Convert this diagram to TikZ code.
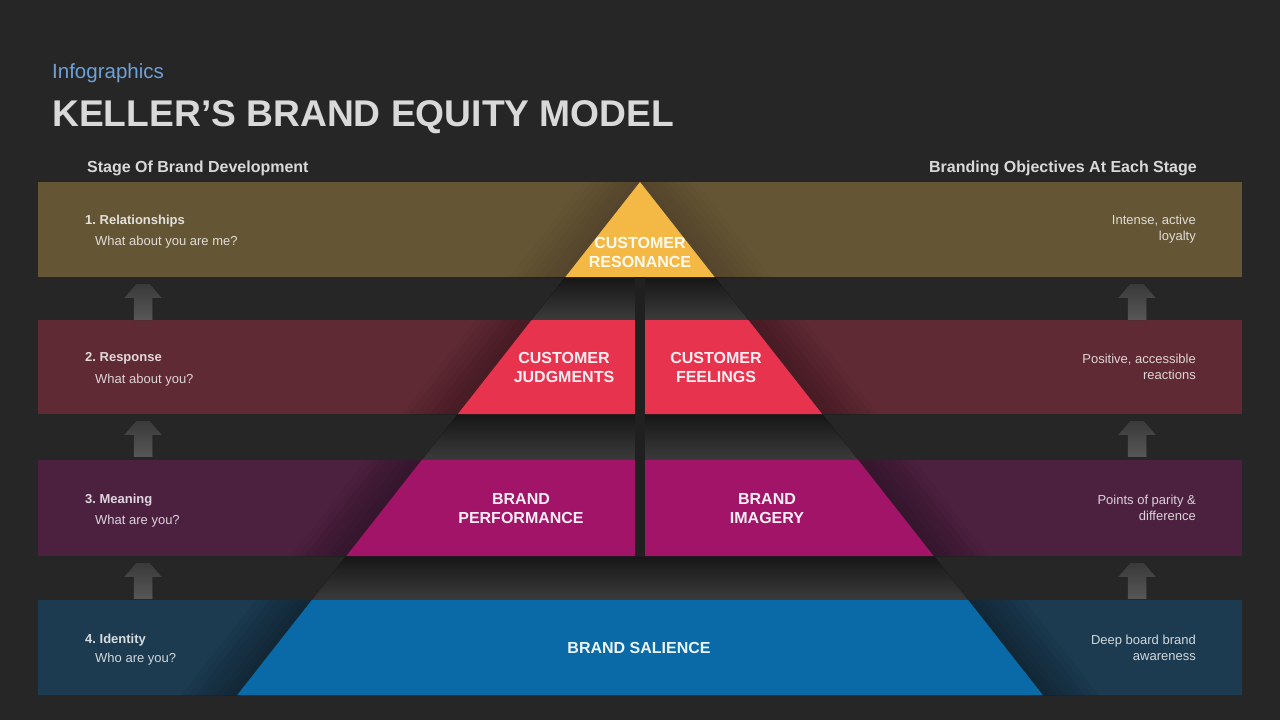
\documentclass[tikz,border=0pt]{standalone}
\usepackage{fontspec}
\setmainfont{Liberation Sans}
\frenchspacing
\definecolor{bg}{HTML}{262626}
\definecolor{bandA}{HTML}{645535}
\definecolor{bandB}{HTML}{5F2A34}
\definecolor{bandC}{HTML}{4C2140}
\definecolor{bandD}{HTML}{1C3B50}
\definecolor{pyA}{HTML}{F3B944}
\definecolor{pyB}{HTML}{E8334E}
\definecolor{pyC}{HTML}{A11467}
\definecolor{pyD}{HTML}{0A6AA8}
\definecolor{titlec}{HTML}{D9D9D9}
\definecolor{infoc}{HTML}{6FA0D6}
\definecolor{gapdark}{HTML}{161616}
\definecolor{gaplight}{HTML}{3B3B3B}
\definecolor{arrowlo}{HTML}{575757}
\definecolor{arrowhi}{HTML}{3A3A3A}
\newcommand\bandshadow[7]{% y0 y1 xl0 xl1 xr0 xr1 opacity
  \foreach \d in {7,14,...,56}{%
    \fill[black,opacity=#7] (#3-\d,#1) -- (#3,#1) -- (#4,#2) -- (#4-\d,#2) -- cycle;
    \fill[black,opacity=#7] (#5+\d,#1) -- (#5,#1) -- (#6,#2) -- (#6+\d,#2) -- cycle;
  }}
\newcommand\uparrowshape[2]{% center x, gap top y
  \fill[bottom color=arrowlo, top color=arrowhi]
    (#1-9.5,#2+43) -- (#1-9.5,#2+21) -- (#1-19,#2+21) -- (#1-7,#2+7)
    -- (#1+7,#2+7) -- (#1+19,#2+21) -- (#1+9.5,#2+21) -- (#1+9.5,#2+43) -- cycle;}
\tikzset{
  ptext/.style={font=\bfseries\fontsize{16}{19}\selectfont, text=white, text opacity=0.93, align=center, inner sep=0},
  lhead/.style={font=\bfseries\fontsize{13}{15}\selectfont, text=white, text opacity=0.82, anchor=base west, inner sep=0},
  lsub/.style={font=\fontsize{13}{15}\selectfont, text=white, text opacity=0.8, anchor=base west, inner sep=0},
  rtext/.style={font=\fontsize{13}{16}\selectfont, text=white, text opacity=0.8, align=right, anchor=east, inner sep=0},
  colhead/.style={font=\bfseries\fontsize{16}{19}\selectfont, text=titlec, inner sep=0},
}
\begin{document}
\begin{tikzpicture}[x=1pt,y=-1pt]
\useasboundingbox (0,0) rectangle (1280,720);
\fill[bg] (0,0) rectangle (1280,720);
% titles
\node[font=\fontsize{20.5}{24}\selectfont, text=infoc, anchor=base west, inner sep=0] (info) at (52,78) {Infographics};
\node[font=\bfseries\fontsize{37.2}{44}\selectfont, text=titlec, anchor=base west, inner sep=0] (title) at (52,126) {KELLER’S BRAND EQUITY MODEL};
\node[colhead, anchor=base west] (lefthead) at (87,172) {Stage Of Brand Development};
\node[colhead, anchor=base east] (righthead) at (1197,172) {Branding Objectives At Each Stage};
% bands
\fill[bandA] (38,182) rectangle (1242,277);
\fill[bandB] (38,320) rectangle (1242,414);
\fill[bandC] (38,460) rectangle (1242,556);
\fill[bandD] (38,600) rectangle (1242,695);
% shadows beside the pyramid
\bandshadow{182}{277}{640}{565.4}{640}{714.6}{0.02}
\bandshadow{320}{414}{531.7}{457.9}{748.3}{822.1}{0.032}
\bandshadow{460}{556}{421.8}{346.4}{858.2}{933.6}{0.035}
\bandshadow{600}{695}{311.9}{237.3}{968.1}{1042.7}{0.04}
% grey gap pieces
\fill[top color=gapdark, bottom color=gaplight] (565.4,277) -- (714.6,277) -- (748.3,320) -- (531.7,320) -- cycle;
\fill[top color=gapdark, bottom color=gaplight] (457.9,414) -- (822.1,414) -- (858.2,460) -- (421.8,460) -- cycle;
\fill[top color=gapdark, bottom color=gaplight] (346.4,556) -- (933.6,556) -- (968.1,600) -- (311.9,600) -- cycle;
% pyramid levels
\fill[pyA] (640,182) -- (714.6,277) -- (565.4,277) -- cycle;
\fill[pyB] (531.7,320) -- (748.3,320) -- (822.1,414) -- (457.9,414) -- cycle;
\fill[pyC] (421.8,460) -- (858.2,460) -- (933.6,556) -- (346.4,556) -- cycle;
\fill[pyD] (311.9,600) -- (968.1,600) -- (1042.7,695) -- (237.3,695) -- cycle;
% central split
\fill[bg!85!black] (635,277) rectangle (645,556);
% arrows
\uparrowshape{143}{277}
\uparrowshape{143}{414}
\uparrowshape{143}{556}
\uparrowshape{1137}{277}
\uparrowshape{1137}{414}
\uparrowshape{1137}{556}
% pyramid labels
\node[ptext] (resonance) at (640,252) {CUSTOMER\\RESONANCE};
\node[ptext] (judgments) at (564,367.5) {CUSTOMER\\JUDGMENTS};
\node[ptext] (feelings) at (716,367.5) {CUSTOMER\\FEELINGS};
\node[ptext] (performance) at (521,508.5) {BRAND\\PERFORMANCE};
\node[ptext] (imagery) at (767,508.5) {BRAND\\IMAGERY};
\node[ptext] (salience) at (639,648) {BRAND SALIENCE};
% left labels
\node[lhead] (s1) at (85,224) {1. Relationships};
\node[lsub] (q1) at (95,245) {What about you are me?};
\node[lhead] (s2) at (85,361) {2. Response};
\node[lsub] (q2) at (95,383) {What about you?};
\node[lhead] (s3) at (85,503) {3. Meaning};
\node[lsub] (q3) at (95,524) {What are you?};
\node[lhead] (s4) at (85,643) {4. Identity};
\node[lsub] (q4) at (95,662) {Who are you?};
% right labels
\node[rtext] (o1) at (1196,229) {Intense, active\\loyalty};
\node[rtext] (o2) at (1196,367) {Positive, accessible\\reactions};
\node[rtext] (o3) at (1196,508) {Points of parity \&\\difference};
\node[rtext] (o4) at (1196,648) {Deep board brand\\awareness};
\end{tikzpicture}
\end{document}
